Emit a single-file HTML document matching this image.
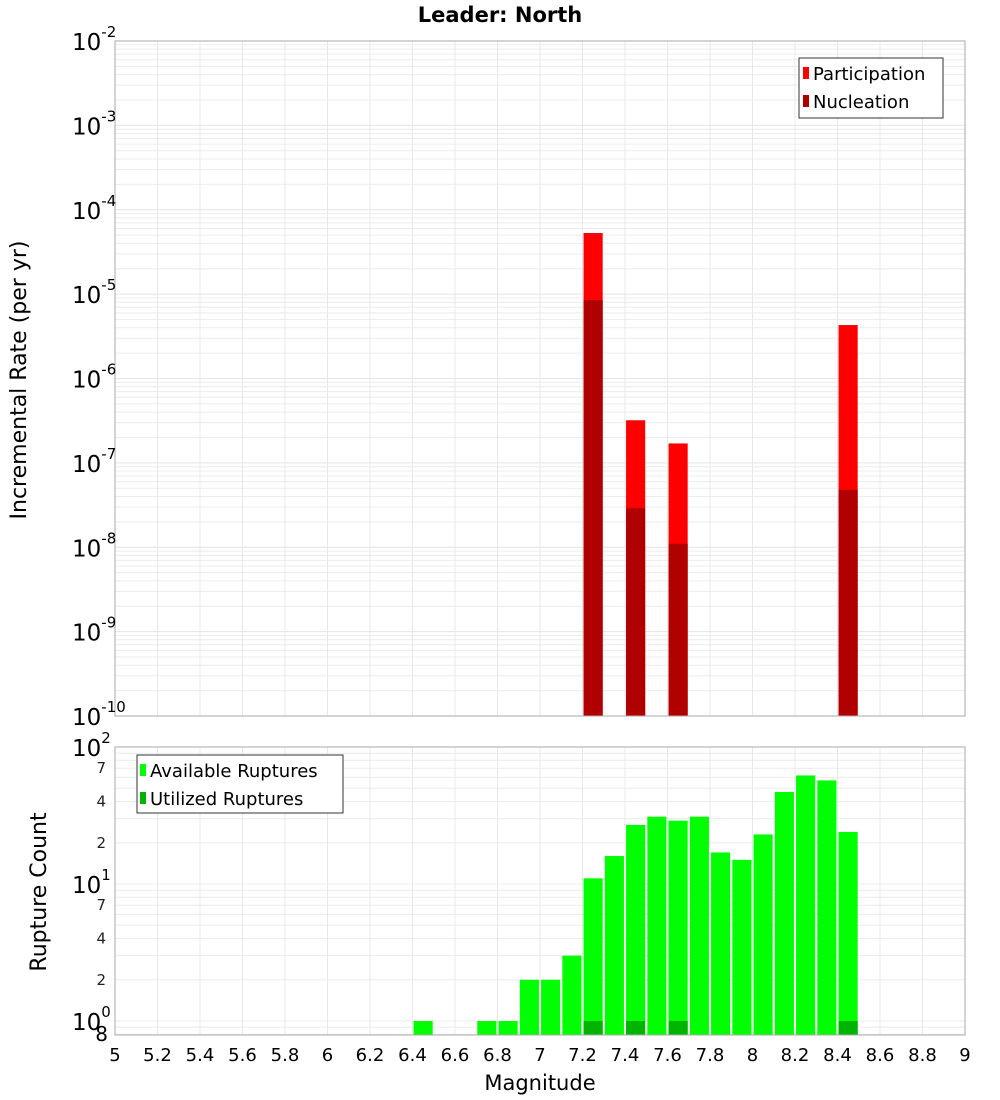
<!DOCTYPE html>
<html><head><meta charset="utf-8"><style>
body{margin:0;background:#fff;font-family:"DejaVu Sans","Liberation Sans",sans-serif}
svg{display:block}
</style></head><body>
<svg id="c" width="1000" height="1100" xmlns="http://www.w3.org/2000/svg"></svg>
<script>
const mags=[7.25,7.45,7.65,8.45];
const participation=[5.3e-5,3.2e-7,1.7e-7,4.3e-6];
const nucleation=[8.5e-6,2.9e-8,1.1e-8,4.8e-8];
const countMags=[6.45,6.75,6.85,6.95,7.05,7.15,7.25,7.35,7.45,7.55,7.65,7.75,7.85,7.95,8.05,8.15,8.25,8.35,8.45];
const available=[1,1,1,2,2,3,11,16,27,31,29,31,17,15,23,47,62,57,24];
const utilMags=[7.25,7.45,7.65,8.45];
const utilized=[1,1,1,1];
const xTicks=[5,5.2,5.4,5.6,5.8,6,6.2,6.4,6.6,6.8,7,7.2,7.4,7.6,7.8,8,8.2,8.4,8.6,8.8,9];
const topDecades=[-2,-3,-4,-5,-6,-7,-8,-9,-10];
const botDecades=[0,1,2];

const svg=document.getElementById('c');const NS='http://www.w3.org/2000/svg';
function el(t,a,txt){const e=document.createElementNS(NS,t);for(const k in a)e.setAttribute(k,a[k]);if(txt!==undefined)e.textContent=txt;svg.appendChild(e);return e;}
const L=115,R=965;
const x=m=>L+(m-5)/4*(R-L);
const T1=41,B1=716;
const y1=v=>T1+(-2-Math.log10(v))/8*(B1-T1);
const T2=747,B2=1035,PD=137;
const y2=v=>1021-Math.log10(v)*PD;
const bw=(x(5.1)-x(5))*0.9;

// grids
for(let d=-10;d<-2;d++)for(let k=2;k<=9;k++){const yy=y1(k*Math.pow(10,d));let g=el('line',{x1:L,x2:R,y1:yy,y2:yy,stroke:'#ececec','stroke-width':1});}
topDecades.forEach(d=>{const yy=y1(Math.pow(10,d));let g=el('line',{x1:L,x2:R,y1:yy,y2:yy,stroke:'#e4e4e4'});});
for(let d=-1;d<2;d++)for(let k=1;k<=9;k++){const v=k*Math.pow(10,d);const yy=y2(v);if(yy<T2||yy>B2)continue;let g=el('line',{x1:L,x2:R,y1:yy,y2:yy,stroke:'#ececec'});}
xTicks.forEach(t=>{[[T1,B1],[T2,B2]].forEach(([a,b])=>{let g=el('line',{x1:x(t),x2:x(t),y1:a,y2:b,stroke:'#e8e8e8'});});});

// top bars
mags.forEach((m,i)=>{
 let r=el('rect',{x:x(m)-bw/2,y:y1(participation[i]),width:bw,height:B1-y1(participation[i]),fill:'#ff0000'});
 
 let n=el('rect',{x:x(m)-bw/2,y:y1(nucleation[i]),width:bw,height:B1-y1(nucleation[i]),fill:'#b00000'});
 
});
// bottom bars
countMags.forEach((m,i)=>{let r=el('rect',{x:x(m)-bw/2,y:y2(available[i]),width:bw,height:B2-y2(available[i]),fill:'#00ff00'});});
utilMags.forEach((m,i)=>{let r=el('rect',{x:x(m)-bw/2,y:y2(utilized[i]),width:bw,height:B2-y2(utilized[i]),fill:'#00b400'});});

// frames
let f1=el('rect',{x:L,y:T1,width:R-L,height:B1-T1,fill:'none',stroke:'#aaa'});
let f2=el('rect',{x:L,y:T2,width:R-L,height:B2-T2,fill:'none',stroke:'#aaa'});

// top y labels
topDecades.forEach(d=>{const yy=y1(Math.pow(10,d));let t=el('text',{x:72,y:yy+9,'font-size':23,fill:'#000'});
 const a=document.createElementNS(NS,'tspan');a.textContent='10';t.appendChild(a);const b=document.createElementNS(NS,'tspan');b.setAttribute('dy','-13');b.setAttribute('font-size','15');b.textContent=String(d);t.appendChild(b);});
// bottom y labels
botDecades.forEach(d=>{const yy=y2(Math.pow(10,d));let t=el('text',{x:72,y:yy+9,'font-size':23,fill:'#000'});
 const a=document.createElementNS(NS,'tspan');a.textContent='10';t.appendChild(a);const b=document.createElementNS(NS,'tspan');b.setAttribute('dy','-13');b.setAttribute('font-size','15');b.textContent=String(d);t.appendChild(b);});
[[70,'7'],[40,'4'],[20,'2'],[7,'7'],[4,'4'],[2,'2']].forEach(([v,s])=>{let t=el('text',{x:106,y:y2(v)+5,'font-size':15,fill:'#222','text-anchor':'end'},s);});
let e8=el('text',{x:108,y:1041,'font-size':20,fill:'#000','text-anchor':'end'},'8');
// x labels
xTicks.forEach(t=>{let tx=el('text',{x:x(t),y:1061,'font-size':18,'text-anchor':'middle',fill:'#000'},String(t));});
// titles
let ti=el('text',{x:500,y:22,'font-size':21,'font-weight':'bold','text-anchor':'middle'},'Leader: North');
let xt=el('text',{x:540,y:1090,'font-size':21,'text-anchor':'middle'},'Magnitude');
let yt=el('text',{x:0,y:0,'font-size':22,'text-anchor':'middle',transform:'translate(26,380) rotate(-90)'},'Incremental Rate (per yr)');
let yb=el('text',{x:0,y:0,'font-size':22,'text-anchor':'middle',transform:'translate(46,892) rotate(-90)'},'Rupture Count');
// legends
let lg1=el('rect',{x:799,y:58,width:144,height:60,fill:'#fff',stroke:'#333'});
let s1=el('rect',{x:803,y:67,width:6,height:12,fill:'#ff0000'});
let l1=el('text',{x:813,y:80,'font-size':18},'Participation');
let s2=el('rect',{x:803,y:95,width:6,height:12,fill:'#b00000'});
let l2=el('text',{x:813,y:108,'font-size':18},'Nucleation');
let lg2=el('rect',{x:137,y:755,width:206,height:58,fill:'#fff',stroke:'#333'});
let s3=el('rect',{x:140,y:764,width:6,height:12,fill:'#00ff00'});
let l3=el('text',{x:150,y:777,'font-size':18},'Available Ruptures');
let s4=el('rect',{x:140,y:792,width:6,height:12,fill:'#00b400'});
let l4=el('text',{x:150,y:805,'font-size':18},'Utilized Ruptures');
</script>
</body></html>
